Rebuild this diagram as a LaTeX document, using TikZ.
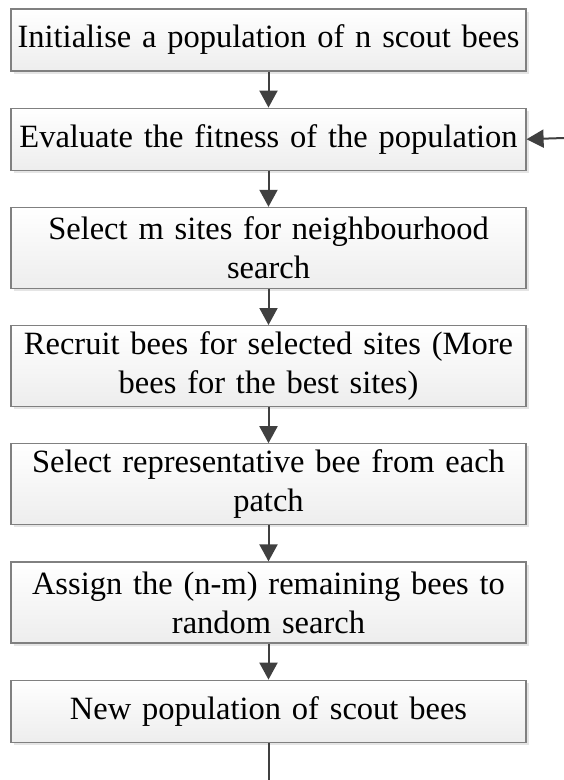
\documentclass[tikz,border=0pt]{standalone}
\usepackage{fontspec}
\setmainfont{Liberation Serif}
\usetikzlibrary{arrows.meta,positioning,shadows}
\definecolor{edge}{HTML}{808080}
\definecolor{ink}{HTML}{404040}
\newcommand{\boxfont}{\fontsize{32.5}{39}\selectfont\spaceskip=6pt plus 2pt minus 1pt\relax}

\begin{document}
\begin{tikzpicture}[x=1pt,y=-1pt,
  stepbox/.style={draw=edge,line width=1.2pt,top color=white,bottom color=gray!14,
    drop shadow={shadow xshift=2.5pt,shadow yshift=-2.5pt,fill=gray!40,opacity=0.5},
    minimum width=515pt,minimum height=62pt,text width=510pt,align=center,inner sep=0pt,
    font=\boxfont},
  tallbox/.style={stepbox,minimum height=81pt},
  flow/.style={ink,line width=2pt,-{Triangle[length=17pt,width=18pt]}},
  node distance=36pt]
  \useasboundingbox (0,0) rectangle (564,780);
  % steps of the bees algorithm
  \node[stepbox] (init) at (268.5,40) {Initialise a population of n scout bees};
  \node[stepbox,below=of init] (eval) {Evaluate the fitness of the population};
  \node[tallbox,below=of eval] (select) {Select m sites for neighbourhood\\search};
  \node[tallbox,below=of select] (recruit) {Recruit bees for selected sites (More\\bees for the best sites)};
  \node[tallbox,below=of recruit] (repr) {Select representative bee from each\\patch};
  \node[tallbox,below=of repr] (assign) {Assign the (n-m) remaining bees to\\random search};
  \node[stepbox,below=of assign] (newpop) {New population of scout bees};
  % connectors
  \draw[flow] (init) -- (eval);
  \draw[flow] (eval) -- (select);
  \draw[flow] (select) -- (recruit);
  \draw[flow] (recruit) -- (repr);
  \draw[flow] (repr) -- (assign);
  \draw[flow] (assign) -- (newpop);
  % loop back
  \coordinate (loopin) at (564,138);
  \coordinate (loopout) at (268.5,780);
  \draw[flow] (loopin) -- (eval.east);
  \draw[ink,line width=2pt] (newpop.south) -- (loopout);
\end{tikzpicture}
\end{document}
